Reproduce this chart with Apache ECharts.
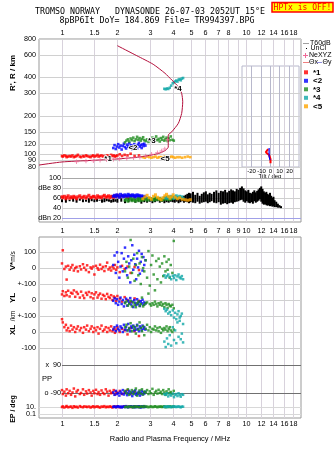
<!DOCTYPE html>
<html>
<head>
<meta charset="utf-8">
<script src="https://cdn.jsdelivr.net/npm/echarts@6.0.0/dist/echarts.min.js"></script>
<style>
html,body{margin:0;padding:0;background:#fff}
#main{width:335px;height:451px}
</style>
</head>
<body>
<div id="main"></div>
<script>
// ---- tick marks / labels
var freqTicks = [1, 1.5, 2, 3, 4, 5, 6, 7, 8, 9, 10, 12, 14, 16, 18];
var freqLabels = ['1', '1.5', '2', '3', '4', '5', '6', '7', '8', '9', '10', '12', '14', '16', '18'];
var freqLabelsEdge = ['1', '1.5', '2', '3', '4', '5', '6', '7', '8', '', '10', '12', '14', '16', '18'];
var heightTicks = [80, 90, 100, 120, 150, 200, 300, 400, 600, 800];
var heightLabels = ['80', '90', '100', '120', '150', '200', '300', '400', '600', '800'];
var ampTicks = [100, 80, 60, 40, 20];
var ampLabels = ['100', 'dBe 80', '60', '40', 'dBn 20'];
var vsTicks = [100, 0];
var vsLabels = ['100', '0'];
var ylTicks = [100, 0, -100];
var ylLabels = ['+-100', '0', '+-100'];
var xlTicks = [0, -100];
var xlLabels = ['0', '-100'];
var ppTicks = [90, -90];
var ppLabels = ['x  90', 'o -90'];
var epTicks = [10, 0.1];
var epLabels = ['10.', '0.1'];
var tiltTicks = [-20, -10, 0, 10, 20];
var tiltLabels = ['-20', '-10', '0', '10', '20'];

// ---- mode *1 (red)
var redFreq = [1.00,1.01,1.03,1.05,1.06,1.08,1.10,1.12,1.14,1.16,1.18,1.20,1.22,1.25,1.27,1.30,1.32,1.35,1.37,1.40,1.43,1.45,1.48,1.50,1.53,1.56,1.58,1.61,1.64,1.67,1.70,1.73,1.76,1.79,1.82,1.85,1.88,1.91,1.94,1.97,2.00,2.06,2.12,2.19,2.27,2.36,2.48,2.62];
var redHeight = [97,96,98,97,95,96,97,96,98,95,96,97,99,96,95,97,96,98,97,96,95,97,98,96,97,99,96,97,98,96,97,95,98,97,96,99,97,98,96,97,98,100,97,99,98,101,97,98];
var redAmp = [62,60,63,58,61,64,59,62,60,63,61,58,62,64,60,61,63,59,62,65,60,61,63,62,59,64,61,62,60,63,65,61,62,64,60,63,62,61,64,63,65,62,64,63,61,64,62,63];
var redVs = [30,113,-5,10,-72,15,-10,5,20,-15,0,8,-20,12,-8,25,3,-12,18,-25,5,-3,10,-40,15,0,-10,22,-5,8,-18,12,35,-8,4,-15,10,-2,20,-10,5,-25,15,-5,10,-30,8,-12];
var redYL = [35,55,25,48,30,58,22,45,40,60,20,50,38,15,52,28,12,45,32,50,18,42,10,35,48,15,30,40,8,32,25,5,38,20,12,30,0,22,15,-5,25,8,-10,18,0,-12,10,-5];
var redXL = [80,60,30,45,10,25,5,40,15,30,0,20,35,10,25,-5,30,15,40,5,20,35,0,25,10,30,-10,20,40,5,15,30,0,25,10,35,5,20,-5,15,30,0,20,10,-15,25,5,-25];
var redPP = [-70,-95,-80,-105,-65,-90,-75,-100,-85,-60,-110,-80,-70,-95,-88,-65,-100,-78,-92,-70,-85,-105,-75,-90,-68,-95,-82,-100,-72,-88,-95,-65,-80,-105,-75,-90,-85,-70,-98,-80,-88,-75,-95,-85,-70,-92,-80,-88];
var redEP = [8,12,6,10,15,7,9,11,5,13,8,10,6,14,9,7,12,10,8,11,6,9,13,7,10,12,8,6,11,9,14,7,10,8,12,9,6,11,10,8,13,7,9,12,10,8,11,9];

// ---- mode <2 (blue)
var blueFreq = [1.90,1.93,1.96,1.99,2.02,2.05,2.08,2.11,2.14,2.17,2.20,2.23,2.26,2.29,2.32,2.35,2.38,2.41,2.44,2.47,2.50,2.53,2.56,2.59,2.62,2.65,2.68,2.71,2.74,2.77,2.80,2.84];
var blueHeight = [112,118,110,115,120,113,117,109,116,121,114,111,119,115,122,113,118,110,116,120,114,117,111,119,123,115,118,112,120,116,121,117];
var blueAmp = [63,65,62,66,64,61,67,63,65,62,66,64,63,67,65,62,64,66,63,65,61,64,66,62,65,63,60,64,62,61,63,60];
var blueVs = [20,80,-30,100,40,-60,10,95,-20,60,130,0,-45,75,30,-90,50,145,-10,85,25,-70,60,5,110,-35,40,90,-15,70,20,50];
var blueYL = [-5,10,-20,5,-30,-10,15,-25,0,-40,-15,8,-35,-5,-20,12,-28,-10,-44,0,-18,-30,5,-25,-12,-38,-8,-20,2,-30,-15,-22];
var blueXL = [15,30,5,40,20,10,35,25,0,45,15,30,10,50,20,5,35,25,40,10,30,15,45,20,5,35,25,10,40,20,30,15];
var bluePP = [-85,-100,-75,-95,-88,-105,-80,-92,-70,-98,-85,-78,-102,-90,-75,-95,-85,-108,-80,-92,-72,-100,-88,-95,-80,-105,-90,-75,-98,-85,-92,-80];
var blueEP = [9,12,7,10,13,8,11,6,10,12,8,14,9,7,11,10,13,8,9,12,7,10,11,8,13,9,6,10,12,8,11,9];

// ---- mode *3 (green)
var greenFreq = [2.20,2.24,2.28,2.32,2.36,2.40,2.44,2.48,2.52,2.56,2.60,2.64,2.68,2.72,2.76,2.80,2.85,2.90,2.95,3.00,3.05,3.10,3.15,3.20,3.25,3.30,3.35,3.40,3.45,3.50,3.55,3.60,3.65,3.70,3.75,3.80,3.85,3.90,3.98,4.05];
var greenHeight = [124,128,131,126,133,129,135,127,131,137,130,134,128,132,136,129,127,131,125,128,130,135,127,133,138,129,132,126,134,130,137,128,131,135,127,133,129,138,130,128];
var greenAmp = [55,57,53,56,58,54,57,55,53,56,58,54,57,55,56,58,57,55,59,56,58,57,55,60,56,58,57,59,55,57,56,58,60,57,59,56,58,57,60,59];
var greenVs = [-20,40,-60,10,178,-30,60,-80,20,95,-45,30,-100,70,0,-20,50,-60,108,-110,20,80,-40,-140,45,-70,60,10,-90,30,-50,75,-20,40,-10,55,-60,20,-30,172];
var greenYL = [-20,-10,-35,-25,-5,-40,-15,-30,-45,-20,-10,-35,-25,15,-40,-30,-20,-15,40,-25,-35,-20,-30,-10,-25,-40,-20,-30,-15,-35,-25,-45,-20,-30,-50,-25,-35,-40,-30,-52];
var greenXL = [30,45,10,25,55,5,35,20,-10,40,15,60,25,5,35,-20,20,45,10,30,0,20,15,35,10,25,5,30,-5,20,10,25,15,35,5,20,30,10,0,15];
var greenPP = [-75,-90,-65,-100,-85,-70,-95,-80,-60,-105,-88,-72,-92,-65,-98,-80,-85,-70,-95,-78,-90,-62,-100,-85,-75,-92,-68,-88,-80,-95,-70,-85,-100,-78,-90,-65,-88,-82,-95,-75];
var greenEP = [8,11,7,12,9,10,6,13,8,11,9,7,12,10,8,14,9,11,7,10,12,8,9,13,10,7,11,9,12,8,10,13,7,9,11,8,12,10,9,11];

// ---- mode *4 (cyan)
var cyanFreq = [3.60,3.66,3.72,3.78,3.85,3.92,4.00,4.06,4.12,4.18,4.24,4.30,4.36,4.42,4.48,4.55];
var cyanHeight = [326,323,328,325,332,345,360,366,372,378,371,384,388,380,392,396];
var cyanAmp = [60,61,59,62,60,63,61,59,62,64,60,61,63,60,62,59];
var cyanVs = [-45,-60,-50,-40,-55,-70,-48,-62,-45,-75,-52,-40,-58,-65,-50,-70];
var cyanYL = [-55,-70,-60,-85,-75,-95,-65,-110,-80,-120,-90,-70,-130,-100,-85,-150];
var cyanXL = [-60,-94,-40,-75,-20,-85,30,-50,10,-70,60,-30,90,-45,-10,-65];
var cyanPP = [-95,-100,-90,-110,-98,-105,-92,-115,-100,-95,-108,-90,-102,-112,-96,-100];
var cyanEP = [9,11,8,12,10,7,13,9,11,8,10,12,9,7,11,10];

// ---- mode <5 (orange), height + amplitude only
var orangeFreq = [2.75,2.82,2.90,2.98,3.06,3.14,3.22,3.30,3.38,3.46,3.54,3.62,3.70,3.78,3.86,3.94,4.02,4.12,4.24,4.36,4.50,4.66,4.82,4.98];
var orangeHeight = [95,94,96,95,94,95,96,94,95,95,94,96,95,94,95,96,95,94,95,95,94,95,96,95];
var orangeAmp = [58,62,65,60,57,63,66,61,58,56,60,64,67,63,59,62,66,61,58,60,57,56,55,56];

// ---- profile curve and NeXYZ points
var profFreq = [0.75,1.00,1.42,1.99,2.65,3.08,3.41,3.67,3.78,3.78,3.78,3.95,4.29,4.47,4.53,4.47,4.29,3.95,3.63,3.13,2.55,2.00];
var profHeight = [82.4,87.1,89.5,91.9,95.3,98.9,102.4,108,114,127,141.6,150,175,209,258,300,338,382,431,507,592,709];
var neFreq = [1.20,1.35,1.48,1.61,1.75,1.90,2.05,2.25,2.45,2.65,2.85,3.07,3.30,3.48,3.62,3.75];
var neHeight = [87.5,88.5,89,90,90.5,91,92,93,94,95,97,100,103,106,110,130];

// ---- mode tags in the height panel
var tagText = ['*1', '<2', '*3', '*4', '<5'];
var tagFreq = [1.78, 2.43, 3.08, 4.27, 3.63];
var tagHeight = [92.5, 112, 127, 327, 91.9];

// ---- tilt inset
var tiltRedDeg = [-2, -4, -4.5, -3, -1, 0, 0.5, 0.5, 0.5];
var tiltRedHeight = [110, 108, 104, 101, 99, 96, 92, 88, 85];
var tiltBlueDeg = [-1, -1, 0, -1, -2, -1, 0, 0];
var tiltBlueHeight = [112, 108, 105, 102, 99, 96, 93, 90];

// ---- amplitude noise band (black)
var noiseFreq = [1.00,1.05,1.10,1.15,1.20,1.25,1.30,1.35,1.40,1.45,1.50,1.55,1.60,1.65,1.70,1.75,1.80,1.85,1.90,1.95,
  2.0,2.1,2.2,2.3,2.4,2.5,2.6,2.7,2.8,2.9,3.0,3.1,3.2,3.3,3.4,3.5,3.6,3.7,3.8,3.9,
  4.0,4.1,4.2,4.3,4.4,4.5,4.6,4.7,4.8,4.9,
  5.00,5.15,5.30,5.45,5.60,5.75,5.90,6.05,6.20,6.35,6.50,
  6.7,6.9,7.1,7.3,7.5,7.7,7.9,8.1,8.3,8.5,8.7,8.9,9.1,9.3,9.5,9.7,9.9,
  10.1,10.3,10.5,10.7,10.9,11.1,11.3,11.5,11.7,11.9,12.1,12.3,12.5,12.7,12.9,13.1,
  13.3,13.5,13.7,13.9,14.1,14.3,14.6,14.9,15.2,15.5];
var noiseHi = [57,58,56,59,57,58,57,56,59,58,57,58,56,57,59,58,57,56,58,57,
  58,59,57,60,58,57,59,58,60,57,59,58,60,57,58,59,57,60,58,57,
  58,59,60,62,58,61,64,66,68,70,
  69,72,66,70,64,68,71,73,67,70,68,
  72,75,70,74,73,76,71,74,77,75,73,78,76,80,83,79,75,
  73,76,70,69,72,75,71,74,77,80,83,78,73,70,72,68,
  66,70,64,60,62,55,52,48,45,43];
var noiseLo = [51,50,53,52,50,54,51,52,50,53,51,52,54,50,51,53,52,50,51,52,
  50,52,49,51,53,50,52,48,51,50,52,49,51,53,50,52,49,51,50,52,
  51,50,52,49,51,53,50,52,51,49,
  51,50,49,52,48,50,51,52,49,51,53,
  50,49,51,46,48,49,47,49,50,48,51,52,53,55,56,52,50,
  53,50,49,51,48,53,50,52,54,57,52,48,46,47,45,44,
  45,43,44,42,43,41,41,40,40,39];

var FONT = '"Liberation Sans", Arial, sans-serif';
var MONO = '"DejaVu Sans Mono", "Liberation Mono", monospace';
var XMIN = 0.75, XMAX = 19.9;

var modes = [
  {name: '*1', color: '#ff0000', f: redFreq, h: redHeight, amp: redAmp, vs: redVs, yl: redYL, xl: redXL, pp: redPP, ep: redEP},
  {name: '<2', color: '#0000ff', f: blueFreq, h: blueHeight, amp: blueAmp, vs: blueVs, yl: blueYL, xl: blueXL, pp: bluePP, ep: blueEP},
  {name: '*3', color: '#1e8c1e', f: greenFreq, h: greenHeight, amp: greenAmp, vs: greenVs, yl: greenYL, xl: greenXL, pp: greenPP, ep: greenEP},
  {name: '*4', color: '#10a8a8', f: cyanFreq, h: cyanHeight, amp: cyanAmp, vs: cyanVs, yl: cyanYL, xl: cyanXL, pp: cyanPP, ep: cyanEP},
  {name: '<5', color: '#ffa500', f: orangeFreq, h: orangeHeight, amp: orangeAmp}
];

// grids: 0 frame(top), 1 height, 2 amp, 3 tilt inset, 4 frame(bottom), 5 V*, 6 YL, 7 XL, 8 PP, 9 EP
var gridBoxes = [
  [39, 39, 262, 183], [39, 39, 262, 132], [39, 171, 262, 51], [242, 66, 57, 101],
  [39, 237, 262, 181], [39, 237, 262, 47], [39, 284, 262, 32], [39, 316, 262, 32],
  [39, 348, 262, 52], [39, 400, 262, 18]
];
var yRanges = [
  ['value', 0, 1], ['log', 74, 800], ['value', 10.9, 114.2], ['log', 79.6, 491.6],
  ['value', 0, 1], ['value', -100, 197], ['value', -100, 100], ['value', -100, 100],
  ['value', -133, 198], ['log', 0.0107, 575]
];

var grid = gridBoxes.map(function (b, i) {
  var framed = (i === 0 || i === 4 || i === 3);
  return {left: b[0], top: b[1], width: b[2], height: b[3], show: framed,
    borderColor: i === 3 ? '#b8b8cc' : '#999999', borderWidth: 1, backgroundColor: 'transparent',
    containLabel: false, outerBoundsMode: 'none'};
});
var xAxis = gridBoxes.map(function (b, i) {
  if (i === 3) return {gridIndex: i, type: 'value', min: -30, max: 31, show: false};
  return {gridIndex: i, type: 'log', min: XMIN, max: XMAX, show: false};
});
var yAxis = yRanges.map(function (r, i) {
  return {gridIndex: i, type: r[0], min: r[1], max: r[2], show: false};
});

function txtEl(s, x, y, align, valign, font, fill) {
  return {type: 'text', x: x, y: y, style: {text: s, font: font, fill: fill || '#000',
    align: align, verticalAlign: valign, textAlign: align, textVerticalAlign: valign}};
}

// gridlines + labels via the axes' own scales
function rules(gi, dir, ticks, o) {
  return {
    type: 'custom', xAxisIndex: gi, yAxisIndex: gi, silent: true, clip: false, z: o.z || 1,
    data: ticks.map(function (v) { return dir === 'v' ? [v, o.ref] : [o.ref, v]; }),
    renderItem: function (params, api) {
      var cs = params.coordSys, i = params.dataIndex;
      var p = api.coord([api.value(0), api.value(1)]);
      var col = Array.isArray(o.color) ? o.color[i] : o.color;
      var font = (o.fontSize || 7.2) + 'px ' + FONT;
      var kids = [];
      if (dir === 'v') {
        var x = Math.round(p[0]) + 0.5;
        kids.push({type: 'line', shape: {x1: x, y1: cs.y, x2: x, y2: cs.y + cs.height}, style: {stroke: col, lineWidth: 1}});
        if (o.top && o.top[i]) kids.push(txtEl(o.top[i], x, cs.y - 2, 'center', 'bottom', font));
        if (o.bottom && o.bottom[i]) kids.push(txtEl(o.bottom[i], x, cs.y + cs.height + (o.gap || 3), 'center', 'top', font));
      } else {
        var y = Math.round(p[1]) + 0.5;
        var x0 = o.fromX != null ? Math.round(api.coord([o.fromX, api.value(1)])[0]) : cs.x;
        kids.push({type: 'line', shape: {x1: x0, y1: y, x2: cs.x + cs.width, y2: y}, style: {stroke: col, lineWidth: 1}});
        if (o.left && o.left[i]) kids.push(txtEl(o.left[i], x0 - (o.gap || 3), y, 'right', 'middle', font));
      }
      return {type: 'group', children: kids};
    }
  };
}

function pts(gi, name, color, xs, ys, size) {
  return {
    type: 'scatter', name: name, xAxisIndex: gi, yAxisIndex: gi, symbol: 'rect',
    symbolSize: size || 2.5, itemStyle: {color: color}, clip: false, silent: true, z: 3,
    data: xs.map(function (x, i) { return [x, ys[i]]; })
  };
}

var series = [];
var GL = '#d8d2dc';
series.push(rules(0, 'v', freqTicks, {ref: 0.5, color: GL, top: freqLabelsEdge, bottom: freqLabels, gap: 5.5}));
series.push(rules(4, 'v', freqTicks, {ref: 0.5, color: GL, bottom: freqLabelsEdge, gap: 3}));
series.push(rules(1, 'h', heightTicks, {ref: 1, color: '#d0d0d0', left: heightLabels}));
series.push(rules(2, 'h', ampTicks, {ref: 1, color: ['#a8a8a8', '#cfcfcf', '#cfcfcf', '#cfcfcf', '#a0a0e8'], left: ampLabels, fromX: 1, gap: 1}));
series.push(rules(3, 'v', tiltTicks, {ref: 100, color: '#b8b8cc', bottom: tiltLabels, fontSize: 6, gap: 1}));
series.push(rules(5, 'h', vsTicks, {ref: 1, color: '#d0d0d0', left: vsLabels}));
series.push(rules(6, 'h', ylTicks, {ref: 1, color: '#d0d0d0', left: ylLabels}));
series.push(rules(7, 'h', xlTicks, {ref: 1, color: '#d0d0d0', left: xlLabels}));
series.push(rules(8, 'h', ppTicks, {ref: 1, color: '#707070', left: ppLabels, fromX: 1, gap: 1}));
series.push(rules(9, 'h', epTicks, {ref: 1, color: '#d8d8d8', left: epLabels}));

// noise band in amplitude panel
series.push({
  type: 'custom', xAxisIndex: 2, yAxisIndex: 2, silent: true, z: 2,
  data: noiseFreq.map(function (f, i) { return [f, noiseLo[i], noiseHi[i]]; }),
  renderItem: function (params, api) {
    var a = api.coord([api.value(0), api.value(2)]);
    var b = api.coord([api.value(0), api.value(1)]);
    return {type: 'rect', shape: {x: a[0] - 1, y: a[1], width: 2, height: b[1] - a[1]}, style: {fill: '#000'}};
  }
});

// profile curve
series.push({type: 'line', xAxisIndex: 1, yAxisIndex: 1, silent: true, symbol: 'none', z: 4,
  lineStyle: {color: '#b4103c', width: 1}, smooth: 0.2,
  data: profFreq.map(function (f, i) { return [f, profHeight[i]]; })});
series.push({type: 'scatter', xAxisIndex: 1, yAxisIndex: 1, silent: true, z: 4,
  symbol: 'path://M4,0h2v10h-2zM0,4h10v2h-10z', symbolSize: 4.5, itemStyle: {color: '#f06a98'},
  data: neFreq.map(function (f, i) { return [f, neHeight[i]]; })});

modes.forEach(function (m) {
  series.push(pts(1, m.name, m.color, m.f, m.h, 2.6));
  series.push(pts(2, m.name, m.color, m.f, m.amp, 3));
  if (m.vs) {
    series.push(pts(5, m.name, m.color, m.f, m.vs));
    series.push(pts(6, m.name, m.color, m.f, m.yl));
    series.push(pts(7, m.name, m.color, m.f, m.xl));
    series.push(pts(8, m.name, m.color, m.f, m.pp));
    series.push(pts(9, m.name, m.color, m.f, m.ep));
  }
});

// tilt traces
series.push({type: 'line', xAxisIndex: 3, yAxisIndex: 3, silent: true, symbol: 'none', z: 4,
  lineStyle: {color: '#ff0000', width: 2}, data: tiltRedDeg.map(function (d, i) { return [d, tiltRedHeight[i]]; })});
series.push({type: 'line', xAxisIndex: 3, yAxisIndex: 3, silent: true, symbol: 'none', z: 5,
  lineStyle: {color: '#0000ff', width: 1.2}, data: tiltBlueDeg.map(function (d, i) { return [d, tiltBlueHeight[i]]; })});

// mode tags
series.push({
  type: 'custom', xAxisIndex: 1, yAxisIndex: 1, silent: true, z: 6,
  data: tagFreq.map(function (f, i) { return [f, tagHeight[i]]; }),
  renderItem: function (params, api) {
    var p = api.coord([api.value(0), api.value(1)]);
    var el = txtEl(tagText[params.dataIndex], p[0], p[1], 'center', 'middle', 'bold 8px ' + FONT);
    el.style.stroke = '#fff';
    el.style.lineWidth = 1.5;
    return el;
  }
});

var T = 7;
var graphic = [
  txtEl('TROMSO NORWAY   DYNASONDE 26-07-03 2052UT 15\u00B0E', 150, 12, 'center', 'middle', '8.3px ' + MONO),
  txtEl('8pBP6It DoY= 184.869 File= TR994397.BPG', 157, 20.5, 'center', 'middle', '8.3px ' + MONO),
  {type: 'rect', shape: {x: 272, y: 2.5, width: 61, height: 9.5}, style: {fill: '#ffff00', stroke: '#ff0000', lineWidth: 1.5}},
  txtEl('HPTx is OFF!', 302.5, 7.5, 'center', 'middle', '8px ' + MONO, '#ff0000'),
  // extra legend rows
  {type: 'line', shape: {x1: 303, y1: 43.5, x2: 309, y2: 43.5}, style: {stroke: '#a0a0a0', lineWidth: 1}},
  txtEl('T60dB', 310, 43.5, 'left', 'middle', T + 'px ' + FONT),
  {type: 'rect', shape: {x: 306, y: 48, width: 1, height: 1}, style: {fill: '#000'}},
  txtEl('UnCl', 310.5, 48.5, 'left', 'middle', T + 'px ' + FONT),
  {type: 'line', shape: {x1: 303, y1: 55.5, x2: 308, y2: 55.5}, style: {stroke: '#f06a98', lineWidth: 1}},
  {type: 'line', shape: {x1: 305.5, y1: 53, x2: 305.5, y2: 58}, style: {stroke: '#f06a98', lineWidth: 1}},
  txtEl('NeXYZ', 309, 55.5, 'left', 'middle', T + 'px ' + FONT),
  {type: 'line', shape: {x1: 303, y1: 62.5, x2: 309, y2: 62.5}, style: {stroke: '#f08080', lineWidth: 1}},
  txtEl('\u0398x', 309, 62.5, 'left', 'middle', T + 'px ' + FONT),
  {type: 'line', shape: {x1: 317, y1: 62.5, x2: 322, y2: 62.5}, style: {stroke: '#9090e0', lineWidth: 1}},
  txtEl('\u0398y', 322.5, 62.5, 'left', 'middle', T + 'px ' + FONT),
  // axis titles
  txtEl('Tilt / deg', 270, 176, 'center', 'middle', '6px ' + FONT),
  txtEl('Radio and Plasma Frequency / MHz', 170, 439, 'center', 'middle', '7.5px ' + FONT),
  txtEl('PP', 47, 379, 'center', 'middle', '7.5px ' + FONT)
];
[['R\', R / km', 73, 'bold 8px '], ['V*', 266, 'bold 8px '], ['m/s', 256.5, '6.5px '], ['YL', 298, 'bold 8px '],
 ['/km', 316, '6.5px '], ['XL', 330, 'bold 8px '], ['EP / deg', 409, 'bold 7px ']].forEach(function (t) {
  var el = txtEl(t[0], 0, 0, 'center', 'middle', t[2] + FONT);
  el.x = 13; el.y = t[1]; el.rotation = Math.PI / 2;
  graphic.push(el);
});

var chart = echarts.init(document.getElementById('main'), null, {renderer: 'canvas'});
chart.setOption({
  animation: false,
  backgroundColor: '#ffffff',
  grid: grid,
  xAxis: xAxis,
  yAxis: yAxis,
  legend: {
    data: modes.map(function (m) { return m.name; }), orient: 'vertical', left: 304, top: 68.3,
    itemWidth: 4, itemHeight: 4, itemGap: 0.5, padding: 0, icon: 'rect', selectedMode: false,
    textStyle: {fontSize: 8, lineHeight: 8, fontFamily: FONT, fontWeight: 'bold', color: '#000'}
  },
  graphic: graphic,
  series: series
});
</script>
</body>
</html>
